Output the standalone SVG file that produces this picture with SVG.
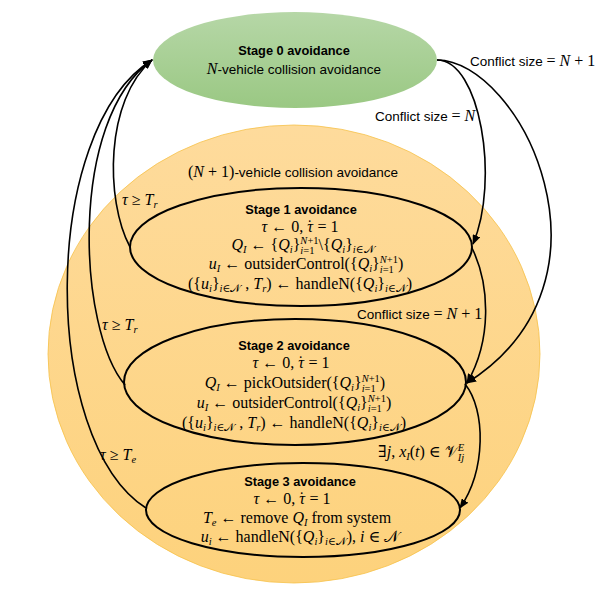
<svg xmlns="http://www.w3.org/2000/svg" width="598" height="598" viewBox="0 0 598 598">
<defs>
<linearGradient id="gGreen" x1="0" y1="0" x2="0" y2="1"><stop offset="0" stop-color="#b6d7a7"/><stop offset="1" stop-color="#9ac883"/></linearGradient>
<linearGradient id="gOrange" x1="0" y1="0" x2="0" y2="1"><stop offset="0" stop-color="#fedb9c"/><stop offset="1" stop-color="#fdd27c"/></linearGradient>
<marker id="arr" markerUnits="userSpaceOnUse" markerWidth="10" markerHeight="8" refX="9" refY="4" orient="auto"><path d="M0,0 L10,4 L0,8 z" fill="#000"/></marker>
<style>
.sans{font-family:"Liberation Sans",Arial,sans-serif;font-size:13.5px;fill:#000}
.b{font-family:"Liberation Sans",Arial,sans-serif;font-weight:bold;font-size:12.8px;fill:#000}
.m{font-family:"Liberation Serif","DejaVu Serif",serif;font-size:16px;fill:#000}
.i{font-style:italic}
.s{font-size:10.5px}
.c{text-anchor:middle}
.st{fill:none;stroke:#000;stroke-width:2}
.con{fill:none;stroke:#000;stroke-width:1.6;marker-end:url(#arr)}
</style>
</defs>
<rect width="598" height="598" fill="#fff"/>

<g id="region">
<ellipse cx="294" cy="354" rx="246" ry="229" fill="url(#gOrange)" stroke="#f6c24a" stroke-width="0.8"/>
<text class="c" x="293" y="177"><tspan class="m">(<tspan class="i">N</tspan> + 1)</tspan><tspan class="sans">-vehicle collision avoidance</tspan></text>
</g>

<g id="stage0">
<ellipse cx="295" cy="60" rx="142" ry="48" fill="url(#gGreen)"/>
<text class="b c" x="294" y="55">Stage 0 avoidance</text>
<text class="c" x="294" y="74"><tspan class="m i">N</tspan><tspan class="sans">-vehicle collision avoidance</tspan></text>
</g>

<g id="stage1">
<ellipse class="st" cx="301" cy="247" rx="171" ry="59"/>
<text class="b c" x="301" y="214">Stage 1 avoidance</text>
<text class="m c" x="300" y="232"><tspan class="i">τ</tspan> ← 0, <tspan class="i">τ</tspan><tspan dx="-6" dy="-1">˙</tspan><tspan dx="1" dy="1"> = 1</tspan></text>
<text class="m c" x="303" y="250"><tspan class="i">Q</tspan><tspan class="s i" dy="3">I</tspan><tspan dy="-3"> ← {</tspan><tspan class="i">Q</tspan><tspan class="s i" dy="3">i</tspan><tspan dy="-3">}</tspan><tspan class="s" dy="-6"><tspan class="i">N</tspan>+1</tspan><tspan class="s" dx="-18.2" dy="10"><tspan class="i">i</tspan>=1</tspan><tspan dx="4.1" dy="-4">\{</tspan><tspan class="i">Q</tspan><tspan class="s i" dy="3">i</tspan><tspan dy="-3">}</tspan><tspan class="s" dy="3"><tspan class="i">i</tspan>∈𝒩</tspan></text>
<text class="m c" x="306" y="269"><tspan class="i">u</tspan><tspan class="s i" dy="3">I</tspan><tspan dy="-3"> ← outsiderControl({</tspan><tspan class="i">Q</tspan><tspan class="s i" dy="3">i</tspan><tspan dy="-3">}</tspan><tspan class="s" dy="-6"><tspan class="i">N</tspan>+1</tspan><tspan class="s" dx="-18.2" dy="10"><tspan class="i">i</tspan>=1</tspan><tspan dx="4.1" dy="-4">)</tspan></text>
<text class="m c" x="300" y="289">({<tspan class="i">u</tspan><tspan class="s i" dy="3">i</tspan><tspan dy="-3">}</tspan><tspan class="s" dy="3"><tspan class="i">i</tspan>∈𝒩</tspan><tspan dy="-3"> , </tspan><tspan class="i">T</tspan><tspan class="s i" dy="3">r</tspan><tspan dy="-3">) ← handleN({</tspan><tspan class="i">Q</tspan><tspan class="s i" dy="3">i</tspan><tspan dy="-3">}</tspan><tspan class="s" dy="3"><tspan class="i">i</tspan>∈𝒩</tspan><tspan dy="-3">)</tspan></text>
</g>

<g id="stage2">
<ellipse class="st" cx="295" cy="382" rx="171" ry="63"/>
<text class="b c" x="294" y="350">Stage 2 avoidance</text>
<text class="m c" x="291" y="368"><tspan class="i">τ</tspan> ← 0, <tspan class="i">τ</tspan><tspan dx="-6" dy="-1">˙</tspan><tspan dx="1" dy="1"> = 1</tspan></text>
<text class="m c" x="295" y="388"><tspan class="i">Q</tspan><tspan class="s i" dy="3">I</tspan><tspan dy="-3"> ← pickOutsider({</tspan><tspan class="i">Q</tspan><tspan class="s i" dy="3">i</tspan><tspan dy="-3">}</tspan><tspan class="s" dy="-6"><tspan class="i">N</tspan>+1</tspan><tspan class="s" dx="-18.2" dy="10"><tspan class="i">i</tspan>=1</tspan><tspan dx="4.1" dy="-4">)</tspan></text>
<text class="m c" x="294" y="408"><tspan class="i">u</tspan><tspan class="s i" dy="3">I</tspan><tspan dy="-3"> ← outsiderControl({</tspan><tspan class="i">Q</tspan><tspan class="s i" dy="3">i</tspan><tspan dy="-3">}</tspan><tspan class="s" dy="-6"><tspan class="i">N</tspan>+1</tspan><tspan class="s" dx="-18.2" dy="10"><tspan class="i">i</tspan>=1</tspan><tspan dx="4.1" dy="-4">)</tspan></text>
<text class="m c" x="294" y="428">({<tspan class="i">u</tspan><tspan class="s i" dy="3">i</tspan><tspan dy="-3">}</tspan><tspan class="s" dy="3"><tspan class="i">i</tspan>∈𝒩</tspan><tspan dy="-3"> , </tspan><tspan class="i">T</tspan><tspan class="s i" dy="3">r</tspan><tspan dy="-3">) ← handleN({</tspan><tspan class="i">Q</tspan><tspan class="s i" dy="3">i</tspan><tspan dy="-3">}</tspan><tspan class="s" dy="3"><tspan class="i">i</tspan>∈𝒩</tspan><tspan dy="-3">)</tspan></text>
</g>

<g id="stage3">
<ellipse class="st" cx="303" cy="510" rx="157" ry="47"/>
<text class="b c" x="300" y="486">Stage 3 avoidance</text>
<text class="m c" x="292" y="504"><tspan class="i">τ</tspan> ← 0, <tspan class="i">τ</tspan><tspan dx="-6" dy="-1">˙</tspan><tspan dx="1" dy="1"> = 1</tspan></text>
<text class="m c" x="297" y="523"><tspan class="i">T</tspan><tspan class="s i" dy="3">e</tspan><tspan dy="-3"> ← remove </tspan><tspan class="i">Q</tspan><tspan class="s i" dy="3">I</tspan><tspan dy="-3"> from system</tspan></text>
<text class="m c" x="300" y="542"><tspan class="i">u</tspan><tspan class="s i" dy="3">i</tspan><tspan dy="-3"> ← handleN({</tspan><tspan class="i">Q</tspan><tspan class="s i" dy="3">i</tspan><tspan dy="-3">}</tspan><tspan class="s" dy="3"><tspan class="i">i</tspan>∈𝒩</tspan><tspan dy="-3">), </tspan><tspan class="i">i</tspan> ∈ 𝒩</text>
</g>

<g id="connectors">
<path class="con" d="M437,60 C480,60 500,180 473,244"/>
<path class="con" d="M437,60 C520,60 630,280 467,383"/>
<path class="con" d="M472,248 C490,285 492,340 467,383"/>
<path class="con" d="M465,384 C486,410 486,470 460,508"/>
<path class="con" d="M130,247 C105,200 105,100 152,60"/>
<path class="con" d="M125,385 C78,330 68,120 152,60"/>
<path class="con" d="M146,508 C40,440 40,130 152,60"/>
<text x="470" y="66"><tspan class="sans">Conflict size </tspan><tspan class="m">= <tspan class="i">N</tspan> + 1</tspan></text>
<text x="375" y="121"><tspan class="sans">Conflict size </tspan><tspan class="m">= <tspan class="i">N</tspan></tspan></text>
<text x="357" y="319"><tspan class="sans">Conflict size </tspan><tspan class="m">= <tspan class="i">N</tspan> + 1</tspan></text>
<text class="m" x="122" y="205"><tspan class="i">τ</tspan> ≥ <tspan class="i">T</tspan><tspan class="s i" dy="3">r</tspan></text>
<text class="m" x="102" y="330"><tspan class="i">τ</tspan> ≥ <tspan class="i">T</tspan><tspan class="s i" dy="3">r</tspan></text>
<text class="m" x="100" y="460"><tspan class="i">τ</tspan> ≥ <tspan class="i">T</tspan><tspan class="s i" dy="3">e</tspan></text>
<text class="m" x="378" y="457">∃<tspan class="i">j</tspan>, <tspan class="i">x</tspan><tspan class="s i" dy="3">I</tspan><tspan dy="-3">(</tspan><tspan class="i">t</tspan>) ∈ 𝒱<tspan class="s i" dy="-6">E</tspan><tspan class="s i" dx="-6.4" dy="10">Ij</tspan></text>
</g>
</svg>
